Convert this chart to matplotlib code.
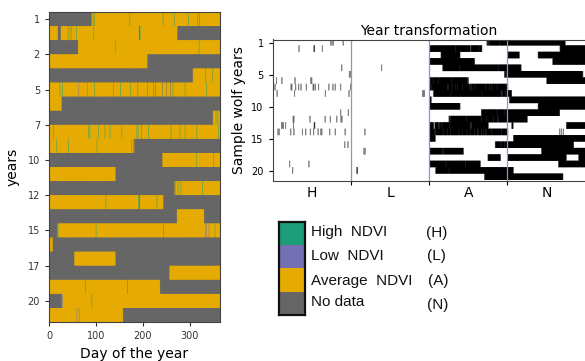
import numpy as np
import matplotlib
matplotlib.use('Agg')
import matplotlib.pyplot as plt
from matplotlib.colors import ListedColormap, PowerNorm
from matplotlib.patches import Rectangle

DAYS = 365
H, L, A, N = 0, 1, 2, 3
class_names = ['High  NDVI', 'Low  NDVI', 'Average  NDVI', 'No data']
class_codes = ['(H)', '(L)', '(A)', '(N)']
section_labels = ['H', 'L', 'A', 'N']
class_colors = ['#1b9e77', '#7570b3', '#e6ab02', '#666666']

left_ytick_pos = [0, 2.5, 5, 7.5, 10, 12.5, 15, 17.5, 20]
left_ytick_labels = ['1', '2', '5', '7', '10', '12', '15', '17', '20']
right_ytick_pos = [0, 5, 10, 15, 20]
right_ytick_labels = ['1', '5', '10', '15', '20']

# per-year runs: (start day, class)
year_runs = [
    [(0, N), (91, A)],
    [(0, A), (19, N), (25, A), (274, N)],
    [(0, N), (62, A)],
    [(0, A), (210, N)],
    [(0, N), (307, A)],
    [(0, A)],
    [(0, A), (27, N)],
    [(0, N), (350, A)],
    [(0, A)],
    [(0, A), (182, N)],
    [(0, N), (242, A)],
    [(0, A), (142, N)],
    [(0, N), (268, A)],
    [(0, A), (244, N)],
    [(0, N), (273, A), (331, N)],
    [(0, N), (18, A)],
    [(0, A), (8, N)],
    [(0, N), (54, A), (142, N)],
    [(0, N), (257, A)],
    [(0, A), (237, N)],
    [(0, N), (26, L), (29, A)],
    [(0, A), (158, N)],
]
high_days = [
    [94, 97, 172, 243, 267, 297, 317, 321],
    [40, 44, 48, 58, 95, 192, 193, 194],
    [320],
    [],
    [334, 349],
    [23, 28, 82, 97, 137, 152, 174, 189, 210, 223, 227, 264, 290, 336],
    [],
    [356, 360],
    [9, 84, 87, 105, 119, 130, 155, 187, 190, 197, 212, 260, 279, 290, 315, 361],
    [1, 16, 41, 102, 176, 180],
    [315, 351],
    [],
    [269, 275, 281, 327],
    [121, 191, 192, 193, 230],
    [],
    [19, 100, 244, 354],
    [],
    [],
    [],
    [77, 167],
    [91],
    [],
]
low_days = [[], [], [141], [], [], [63], [], [], [], [], [], [], [], [], [],
            [333, 336, 341], [], [], [], [], [], [59, 64]]
nodata_days = [[], [], [], [], [], [242, 250, 259], [], [], [], [], [], [], [], [], [],
               [], [], [], [], [], [], []]

# order of the years in the transformed (right) panel
sample_order = [12, 13, 17, 3, 2, 7, 9, 8, 15, 16, 11, 10, 0, 1, 5, 6, 4, 21, 14, 19, 20, 18]

# ---- build class matrix
n_years = len(year_runs)
cls = np.zeros((n_years, DAYS), dtype=int)
for i, runs in enumerate(year_runs):
    for k, (start, c) in enumerate(runs):
        end = runs[k + 1][0] if k + 1 < len(runs) else DAYS
        cls[i, start:end] = c
    for d in high_days[i]:
        cls[i, d] = H
    for d in low_days[i]:
        cls[i, d] = L
    for d in nodata_days[i]:
        cls[i, d] = N

trans = np.zeros((n_years, 4 * DAYS))
for r, i in enumerate(sample_order):
    for s in range(4):
        trans[r, s * DAYS:(s + 1) * DAYS] = (cls[i] == s).astype(float)

W, Hpx = 585, 361
fig = plt.figure(figsize=(W / 100, Hpx / 100), dpi=100)

def fr(x0, y0, x1, y1):
    return [x0 / W, 1 - y1 / Hpx, (x1 - x0) / W, (y1 - y0) / Hpx]

# ---- left panel (rows repeated so the vertical scale is close to 1:1)
REP1 = 14
ax1 = fig.add_axes(fr(49, 12, 220, 322))
cmap = ListedColormap(class_colors)
ax1.imshow(np.repeat(cls, REP1, axis=0), cmap=cmap, vmin=-0.5, vmax=3.5, aspect='auto',
           extent=[0, DAYS, n_years - 0.5, -0.5], interpolation='antialiased',
           interpolation_stage='rgba')
ax1.set_xlim(0, DAYS)
ax1.set_ylim(n_years - 0.5, -0.5)
ax1.set_xticks([0, 100, 200, 300])
ax1.set_yticks(left_ytick_pos)
ax1.set_yticklabels(left_ytick_labels)
ax1.tick_params(labelsize=7, length=3, width=0.8, colors='#333333')
ax1.set_xlabel('Day of the year', fontsize=10, labelpad=4)
ax1.set_ylabel('years', fontsize=10, labelpad=6)
for sp in ax1.spines.values():
    sp.set_color('#444444')
    sp.set_linewidth(0.8)

# ---- right panel
REP2 = 7
ax2 = fig.add_axes(fr(272.7, 39.5, 585.5, 180.5))
ax2.imshow(np.repeat(trans, REP2, axis=0), cmap='gray_r', norm=PowerNorm(0.45, vmin=0, vmax=1),
           aspect='auto', extent=[0, 4 * DAYS, n_years - 0.5, -0.5],
           interpolation='antialiased', interpolation_stage='data')
for s in range(1, 4):
    ax2.axvline(s * DAYS, color='#7f9ccc', lw=0.9)
ax2.set_xlim(0, 4 * DAYS)
ax2.set_ylim(n_years - 0.5, -0.5)
ax2.set_xticks([DAYS, 2 * DAYS, 3 * DAYS])
ax2.set_xticklabels([])
ax2.set_xticks([(s + 0.5) * DAYS for s in range(4)], minor=True)
ax2.set_xticklabels(section_labels, minor=True, fontsize=10)
ax2.tick_params(axis='x', which='minor', length=0, pad=4)
ax2.tick_params(axis='x', which='major', length=3)
ax2.set_yticks(right_ytick_pos)
ax2.set_yticklabels(right_ytick_labels)
ax2.tick_params(axis='y', labelsize=7, length=3)
ax2.set_ylabel('Sample wolf years', fontsize=10, labelpad=4)
ax2.set_title('Year transformation', fontsize=10, pad=3)
for sp in ax2.spines.values():
    sp.set_color('#444444')
    sp.set_linewidth(0.8)

# ---- legend
axl = fig.add_axes(fr(279, 221.7, 305, 315))
for k, c in enumerate(class_colors):
    axl.add_patch(Rectangle((0, 3 - k), 1, 1, facecolor=c, edgecolor='none'))
axl.set_xlim(0, 1)
axl.set_ylim(0, 4)
axl.set_xticks([])
axl.set_yticks([])
for sp in axl.spines.values():
    sp.set_linewidth(1.6)
    sp.set_color('#111111')

name_y = [231.7, 256, 280.7, 302]
code_y = [232.7, 256, 280.7, 305]
code_x = [425.7, 426.7, 427.7, 426.7]
for k in range(4):
    fig.text(310.7 / W, 1 - name_y[k] / Hpx, class_names[k], ha='left', va='center',
             fontsize=11, family='Liberation Sans', color='#111111')
    fig.text(code_x[k] / W, 1 - code_y[k] / Hpx, class_codes[k], ha='left', va='center',
             fontsize=11, family='Liberation Sans', color='#111111')

fig.savefig('out.png', dpi=100)
